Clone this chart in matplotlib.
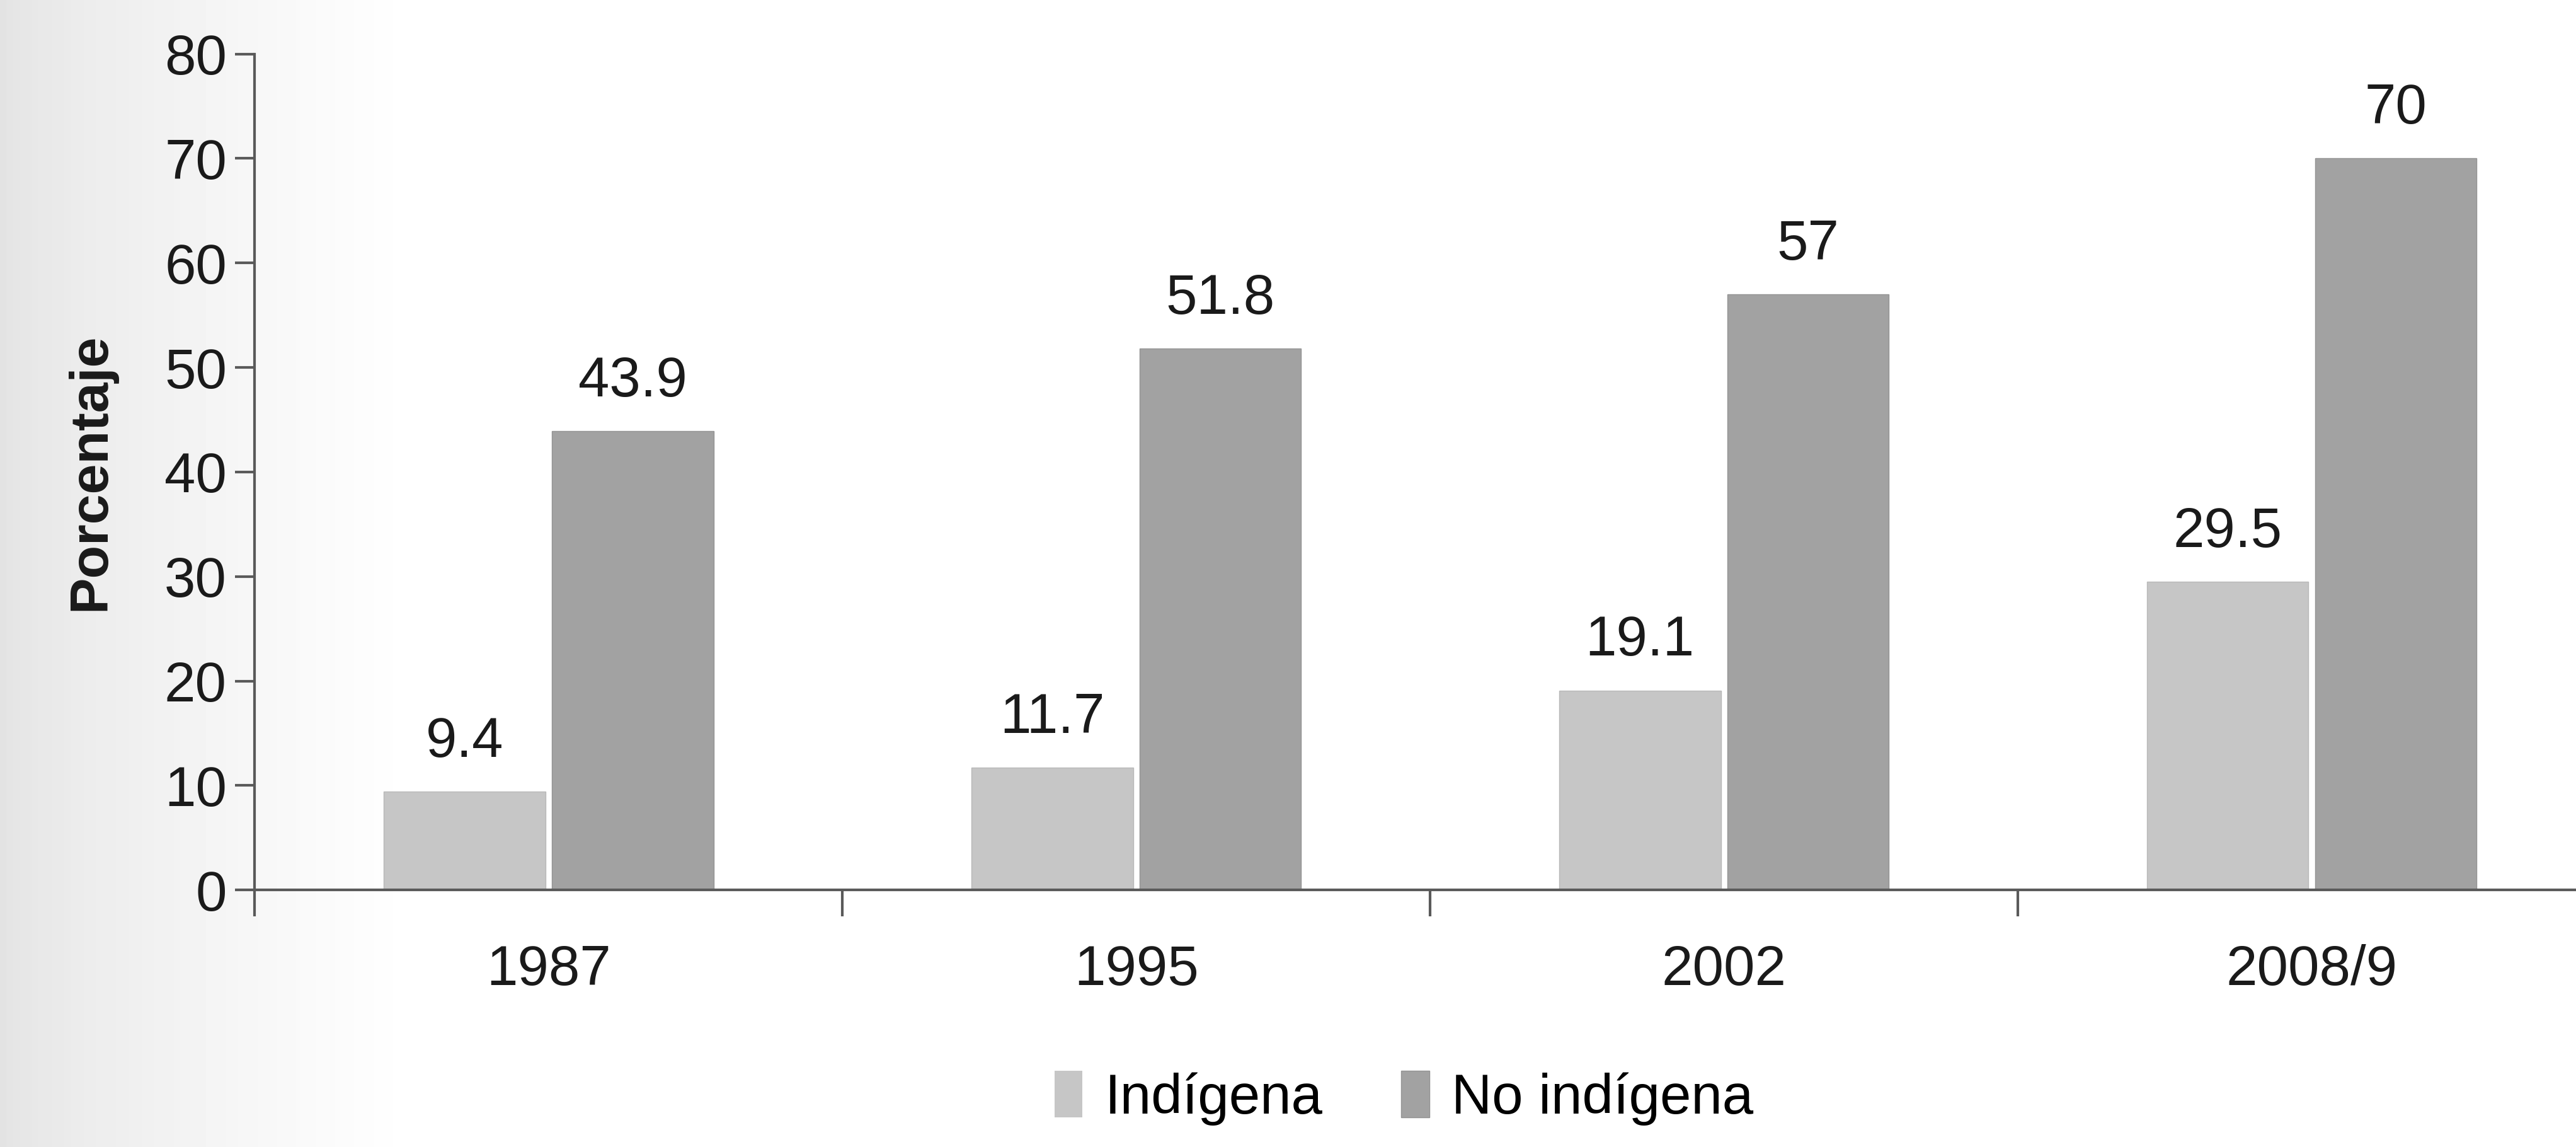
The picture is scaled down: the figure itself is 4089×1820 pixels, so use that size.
import numpy as np
import matplotlib
matplotlib.use("Agg")
import matplotlib.pyplot as plt
from matplotlib.patches import Patch

# datos
years = ["1987", "1995", "2002", "2008/9"]
indigena = [9.4, 11.7, 19.1, 29.5]
no_indigena = [43.9, 51.8, 57, 70]
series_names = ["Indígena", "No indígena"]

plt.rcParams['font.family'] = ['Liberation Sans', 'DejaVu Sans']

fig = plt.figure(figsize=(40.89, 18.2), dpi=100)

# sombreado de escaneo a la izquierda
bg = fig.add_axes([0, 0, 1, 1], zorder=-10)
grad = np.linspace(0, 1, 400)
shade = 0.89 + 0.11 * np.clip(grad / 0.16, 0, 1) ** 0.7
bg.imshow(np.tile(shade, (10, 1)), cmap="gray", vmin=0, vmax=1,
          aspect="auto", extent=[0, 1, 0, 1])
bg.axis("off")

ax = fig.add_axes([0.0989, 0.224, 0.9126, 0.729])
ax.patch.set_alpha(0)

x = np.arange(len(years))
w = 0.275
off = 0.143
c_ind = "#c6c6c6"
c_no = "#a2a2a2"
b1 = ax.bar(x - off, indigena, w, color=c_ind, edgecolor="#b8b8b8", linewidth=1)
b2 = ax.bar(x + off, no_indigena, w, color=c_no, edgecolor="#939393", linewidth=1)

for bars, vals in ((b1, indigena), (b2, no_indigena)):
    for r, v in zip(bars, vals):
        ax.annotate(f"{v:g}", (r.get_x() + r.get_width() / 2, v),
                    xytext=(0, 26), textcoords="offset points",
                    ha="center", va="bottom", fontsize=64, color="#1a1a1a")

ax.set_xlim(-0.5, 3.5)
ax.set_ylim(0, 80)
ax.set_yticks(range(0, 81, 10))
ax.set_xticks(x)
ax.set_xticklabels(years)
ax.set_xticks(np.arange(-0.5, 3.6, 1), minor=True)

for s in ("top", "right"):
    ax.spines[s].set_visible(False)
for s in ("left", "bottom"):
    ax.spines[s].set_color("#5a5a5a")
    ax.spines[s].set_linewidth(3)

ax.tick_params(axis="y", length=22, width=3, color="#5a5a5a", pad=10,
               labelsize=64, labelcolor="#1a1a1a")
ax.tick_params(axis="x", which="major", length=0, pad=62,
               labelsize=64, labelcolor="#1a1a1a")
ax.tick_params(axis="x", which="minor", length=30, width=3, color="#5a5a5a")

ax.set_ylabel("Porcentaje", fontsize=62, fontweight="bold", labelpad=55,
              color="#1a1a1a")

handles = [Patch(facecolor=c_ind, edgecolor="none"),
           Patch(facecolor=c_no, edgecolor="#939393")]
fig.legend(handles, series_names, loc="lower center", ncol=2,
           bbox_to_anchor=(0.545, -0.025), frameon=False, fontsize=64,
           handlelength=0.5, handleheight=0.9, handletextpad=0.4,
           columnspacing=1.4)

fig.savefig("out.png", dpi=100)
